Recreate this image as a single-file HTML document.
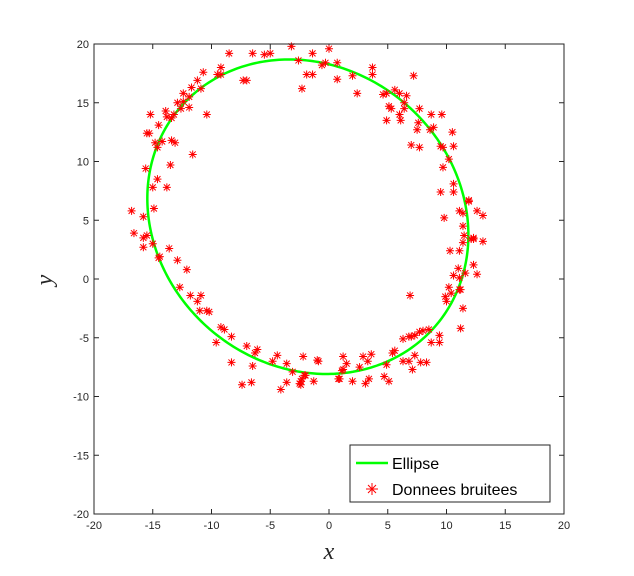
<!DOCTYPE html>
<html><head><meta charset="utf-8">
<style>
body{margin:0;background:#fff;}
svg{display:block;font-family:"Liberation Sans",sans-serif;}
</style></head>
<body>
<svg id="chart" width="634" height="576" viewBox="0 0 634 576">
<rect x="0" y="0" width="634" height="576" fill="#fff"/>
<rect x="94" y="44" width="470" height="470" fill="#fff"/>
<g id="ticks"></g>
<g id="marks"></g>
<rect x="94" y="44" width="470" height="470" fill="none" stroke="#262626" stroke-width="1"/>
<text x="329" y="559" font-family="Liberation Serif,serif" font-style="italic" font-size="24" text-anchor="middle" fill="#262626">x</text>
<text x="52" y="280" font-family="Liberation Serif,serif" font-style="italic" font-size="24" text-anchor="middle" fill="#262626" transform="rotate(-90 52 280)">y</text>
<g>
<rect x="350" y="445" width="200" height="57" fill="#fff" stroke="#262626" stroke-width="1"/>
<line x1="356" y1="463" x2="388" y2="463" stroke="#00ff00" stroke-width="2.5"/>
<text x="392" y="469" font-size="16" fill="#000">Ellipse</text>
<path d="M372 483v12M366 489h12M368 485l8 8M376 485l-8 8" stroke="#ff0000" stroke-width="1" fill="none"/>
<text x="392" y="495" font-size="16" fill="#000">Donnees bruitees</text>
</g>
</svg>
<script>
const xTicks=[-20,-15,-10,-5,0,5,10,15,20];
const yTicks=[-20,-15,-10,-5,0,5,10,15,20];
const ptsX=[-8.5,-6.5,-5.5,-5.0,-3.2,-2.6,-1.4,0,-0.6,-0.3,0.7,-1.9,-1.4,-2.3,0.7,-9.2,-9.5,-9.2,-10.7,-11.2,-11.7,-10.9,-7.3,-7.0,-12.4,-11.9,-12.9,-12.4,-11.9,-12.6,-13.9,-13.2,-13.8,-13.4,-10.4,-15.2,-14.5,-15.5,-15.3,-14.8,-14.2,-13.4,-13.1,-14.6,-11.6,-13.5,-15.6,-14.6,-15.0,-13.8,-16.8,-14.9,-15.8,-16.6,-15.8,-15.5,-15.8,-15.0,-13.6,-14.5,-14.4,-12.9,-12.1,2.0,2.4,3.7,3.7,7.2,4.6,4.9,5.6,6.0,6.6,6.4,6.4,5.1,5.3,6.0,6.1,4.9,7.7,8.7,9.6,7.6,7.5,8.6,8.9,10.5,7.0,7.7,9.5,9.7,10.6,10.2,9.7,10.6,9.5,10.6,11.9,11.9,11.1,11.4,12.6,13.1,9.8,11.4,11.5,12.3,12.1,12.3,13.1,11.4,10.3,11.1,12.3,11.0,12.6,11.6,10.6,11.1,10.2,11.1,11.2,9.9,10.0,10.4,6.9,11.4,11.2,9.4,8.7,9.4,8.5,8.0,7.7,7.3,7.0,6.8,6.3,5.6,5.4,7.3,6.3,6.8,7.8,8.3,7.1,4.9,3.6,2.9,3.3,2.6,1.5,1.2,1.2,1.1,4.7,5.1,3.4,3.1,2.0,0.9,-0.9,-1.0,-2.2,-1.3,-2.1,-2.4,-2.4,-12.7,-11.8,-10.9,-11.2,-11.0,-10.4,-10.2,-9.2,-8.9,-8.3,-9.6,-7.0,-6.1,-6.3,-4.4,-4.8,-8.3,-6.5,-3.6,-3.1,-7.4,-6.6,-4.1,-3.6,-2.5,-2.3,-2.0,0.8];
const ptsY=[19.2,19.2,19.1,19.2,19.8,18.6,19.2,19.6,18.2,18.4,18.4,17.4,17.4,16.2,17.0,18.0,17.4,17.4,17.6,16.9,16.3,16.2,16.9,16.9,15.8,15.5,15.0,15.1,14.6,14.5,14.3,14.0,13.8,13.7,14.0,14.0,13.1,12.4,12.4,11.6,11.7,11.8,11.6,11.2,10.6,9.7,9.4,8.5,7.8,7.8,5.8,6.0,5.3,3.9,3.5,3.7,2.7,3.0,2.6,1.8,1.9,1.6,0.8,17.3,15.8,18.0,17.4,17.3,15.7,15.8,16.1,15.8,15.6,15.0,14.5,14.7,14.5,14.0,13.5,13.5,14.5,14.0,14.0,13.3,12.7,12.7,12.9,12.5,11.4,11.2,11.3,11.2,11.3,10.2,9.5,8.1,7.4,7.4,6.7,6.6,5.8,5.6,5.8,5.4,5.2,4.5,3.7,3.4,3.4,3.5,3.2,3.1,2.4,2.4,1.2,0.9,0.4,0.5,0.3,0.1,-0.7,-0.9,-0.9,-1.5,-1.9,-1.2,-1.4,-2.5,-4.2,-4.8,-5.4,-5.4,-4.3,-4.4,-4.5,-4.8,-4.9,-4.9,-5.1,-6.1,-6.3,-6.5,-7.0,-7.0,-7.1,-7.1,-7.7,-7.3,-6.4,-6.6,-7.0,-7.5,-7.2,-6.6,-7.7,-7.8,-8.3,-8.7,-8.5,-8.9,-8.7,-8.5,-7.0,-6.9,-6.6,-8.7,-8.2,-8.7,-9.0,-0.7,-1.4,-1.4,-1.9,-2.7,-2.7,-2.8,-4.1,-4.3,-4.9,-5.4,-5.7,-6.0,-6.3,-6.5,-7.0,-7.1,-7.4,-7.2,-7.9,-9.0,-8.8,-9.4,-8.8,-8.9,-8.5,-8.2,-8.5];
const ellipseCx=-1.8, ellipseCy=5.3, ellipseA=14.3, ellipseB=12.7, ellipseAngleDeg=140;

const NS='http://www.w3.org/2000/svg';
const X0=94,X1=564,Y0=514,Y1=44,DMIN=-20,DMAX=20;
function sx(v){return X0+(v-DMIN)/(DMAX-DMIN)*(X1-X0);}
function sy(v){return Y0-(v-DMIN)/(DMAX-DMIN)*(Y0-Y1);}
const ticks=document.getElementById('ticks');
const marks=document.getElementById('marks');
xTicks.forEach(t=>{
  const x=sx(t);
  const l=document.createElementNS(NS,'path');
  l.setAttribute('d',`M${x} ${Y0}v-5M${x} ${Y1}v5`);
  l.setAttribute('stroke','#262626');
  
  
  ticks.appendChild(l);
  const tx=document.createElementNS(NS,'text');
  tx.setAttribute('x',x);tx.setAttribute('y',Y0+15);
  tx.setAttribute('font-size','11');tx.setAttribute('text-anchor','middle');tx.setAttribute('fill','#262626');
  tx.textContent=t;
  
  
  ticks.appendChild(tx);
});
yTicks.forEach(t=>{
  const y=sy(t);
  const l=document.createElementNS(NS,'path');
  l.setAttribute('d',`M${X0} ${y}h5M${X1} ${y}h-5`);
  l.setAttribute('stroke','#262626');
  
  
  ticks.appendChild(l);
  const tx=document.createElementNS(NS,'text');
  tx.setAttribute('x',X0-5);tx.setAttribute('y',y+4);
  tx.setAttribute('font-size','11');tx.setAttribute('text-anchor','end');tx.setAttribute('fill','#262626');
  tx.textContent=t;
  
  
  ticks.appendChild(tx);
});
// ellipse
const phi=ellipseAngleDeg*Math.PI/180;
let d='';
for(let i=0;i<=360;i++){
  const t=i*Math.PI/180;
  const ex=ellipseCx+ellipseA*Math.cos(t)*Math.cos(phi)-ellipseB*Math.sin(t)*Math.sin(phi);
  const ey=ellipseCy+ellipseA*Math.cos(t)*Math.sin(phi)+ellipseB*Math.sin(t)*Math.cos(phi);
  d+=(i?'L':'M')+sx(ex).toFixed(2)+' '+sy(ey).toFixed(2);
}
const ep=document.createElementNS(NS,'path');
ep.setAttribute('d',d+'Z');
ep.setAttribute('fill','none');ep.setAttribute('stroke','#00ff00');ep.setAttribute('stroke-width','2.5');


marks.appendChild(ep);
// points
ptsX.forEach((vx,i)=>{
  const x=sx(vx),y=sy(ptsY[i]);
  const p=document.createElementNS(NS,'path');
  p.setAttribute('d',`M${x} ${y-4}v8M${x-4} ${y}h8M${x-3} ${y-3}l6 6M${x+3} ${y-3}l-6 6`);
  p.setAttribute('stroke','#ff0000');p.setAttribute('stroke-width','1');p.setAttribute('fill','none');
  
  
  marks.appendChild(p);
});
</script>
</body></html>
